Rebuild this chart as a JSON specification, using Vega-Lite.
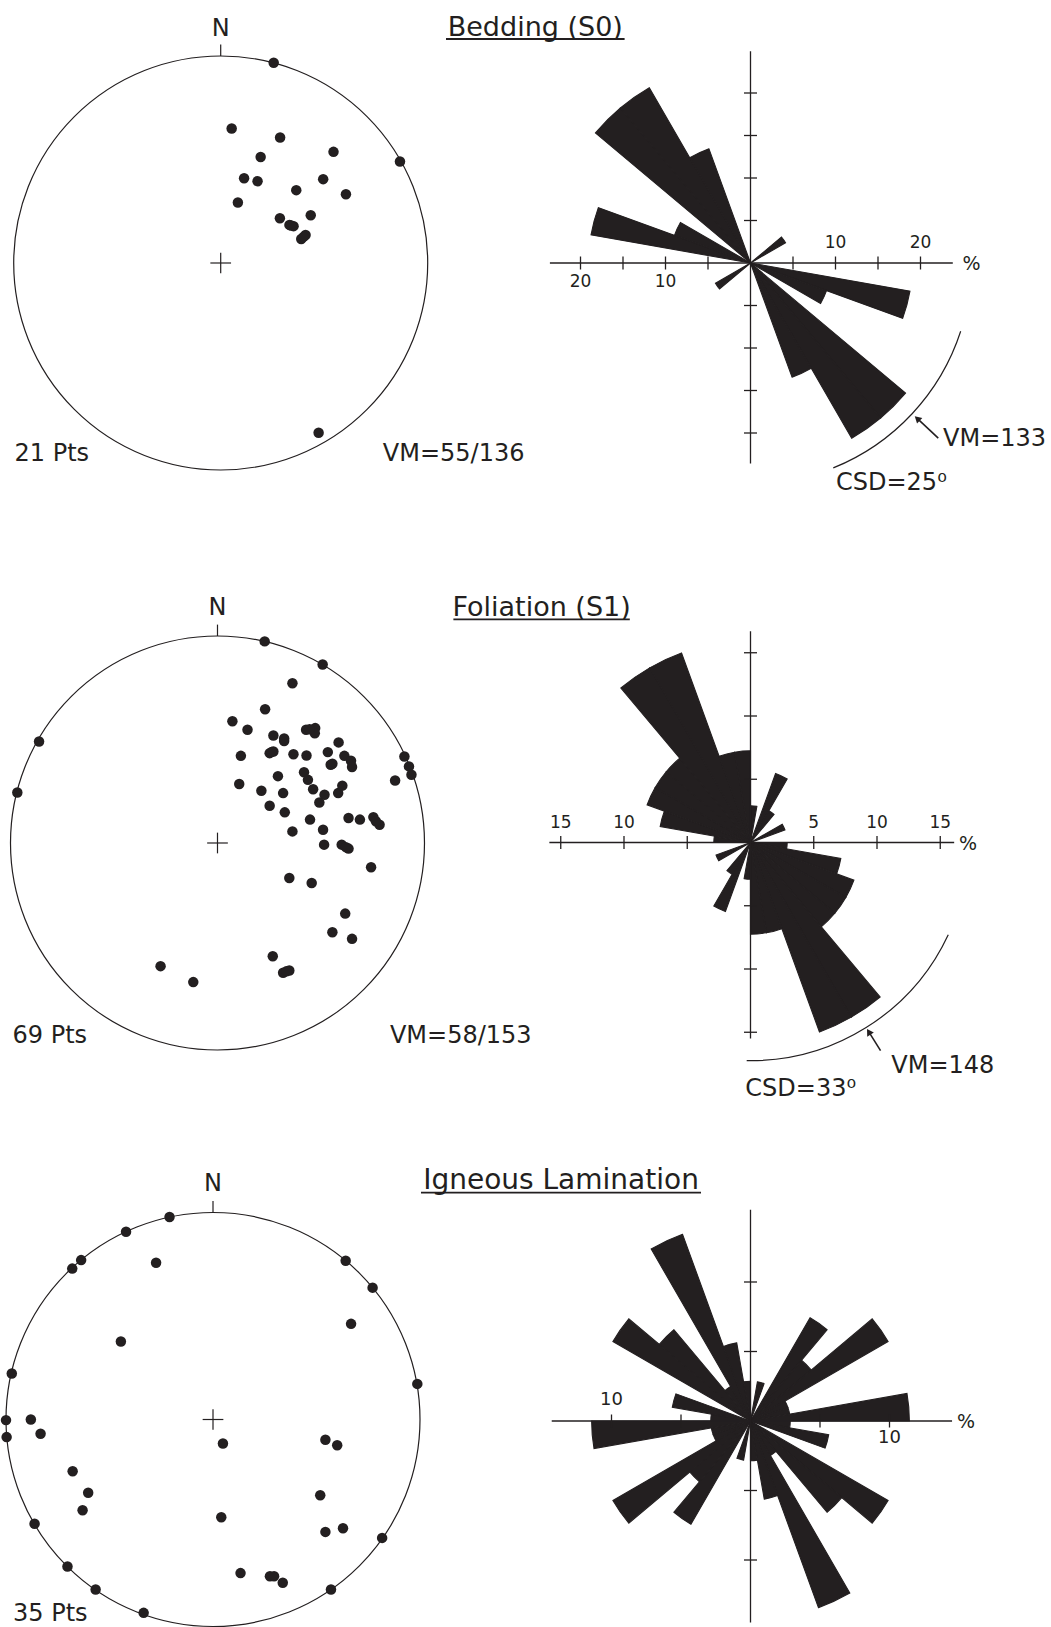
{
  "$schema": "https://vega.github.io/schema/vega-lite/v6.json",
  "padding": 0,
  "bounds": "flush",
  "spacing": 0,
  "columns": 2,
  "background": "white",
  "config": {
    "view": {"stroke": null},
    "axis": {"disable": true},
    "font": "DejaVu Sans",
    "text": {"font": "DejaVu Sans", "color": "#231f20"}
  },
  "datasets": {
    "net_centre": [{"x": 0, "y": 0}],
    "net_marks": [
      {"x": 0, "y": 1, "x2": 0, "y2": 1.055},
      {"x": -0.05, "y": 0, "x2": 0.05, "y2": 0},
      {"x": 0, "y": -0.05, "x2": 0, "y2": 0.05}
    ],
    "bedding_poles": [
      {"x": 0.256, "y": 0.967}, {"x": 0.866, "y": 0.49}, {"x": 0.053, "y": 0.65},
      {"x": 0.287, "y": 0.606}, {"x": 0.193, "y": 0.512}, {"x": 0.545, "y": 0.537},
      {"x": 0.113, "y": 0.409}, {"x": 0.178, "y": 0.395}, {"x": 0.365, "y": 0.352},
      {"x": 0.495, "y": 0.405}, {"x": 0.605, "y": 0.332}, {"x": 0.083, "y": 0.292},
      {"x": 0.286, "y": 0.216}, {"x": 0.435, "y": 0.231}, {"x": 0.332, "y": 0.184},
      {"x": 0.352, "y": 0.178}, {"x": 0.34, "y": 0.181}, {"x": 0.389, "y": 0.116},
      {"x": 0.41, "y": 0.135}, {"x": 0.4, "y": 0.126}, {"x": 0.473, "y": -0.82}
    ],
    "foliation_poles": [
      {"x": 0.228, "y": 0.974}, {"x": 0.508, "y": 0.862}, {"x": 0.362, "y": 0.772},
      {"x": 0.23, "y": 0.646}, {"x": 0.072, "y": 0.588}, {"x": 0.145, "y": 0.547},
      {"x": 0.428, "y": 0.547}, {"x": 0.472, "y": 0.555}, {"x": 0.27, "y": 0.519},
      {"x": 0.322, "y": 0.493}, {"x": 0.585, "y": 0.486}, {"x": 0.113, "y": 0.421},
      {"x": 0.252, "y": 0.434}, {"x": 0.27, "y": 0.442}, {"x": 0.367, "y": 0.429},
      {"x": 0.43, "y": 0.423}, {"x": 0.533, "y": 0.439}, {"x": 0.613, "y": 0.421},
      {"x": 0.645, "y": 0.397}, {"x": 0.65, "y": 0.367}, {"x": 0.547, "y": 0.378},
      {"x": 0.903, "y": 0.418}, {"x": 0.925, "y": 0.37}, {"x": 0.937, "y": 0.33},
      {"x": 0.858, "y": 0.302}, {"x": 0.418, "y": 0.342}, {"x": 0.437, "y": 0.305},
      {"x": 0.292, "y": 0.323}, {"x": 0.105, "y": 0.285}, {"x": 0.212, "y": 0.252},
      {"x": 0.317, "y": 0.241}, {"x": 0.462, "y": 0.26}, {"x": 0.517, "y": 0.233},
      {"x": 0.492, "y": 0.196}, {"x": 0.583, "y": 0.241}, {"x": 0.603, "y": 0.277},
      {"x": 0.252, "y": 0.18}, {"x": 0.325, "y": 0.148}, {"x": 0.447, "y": 0.113},
      {"x": 0.633, "y": 0.121}, {"x": 0.688, "y": 0.113}, {"x": 0.753, "y": 0.125},
      {"x": 0.783, "y": 0.088}, {"x": 0.362, "y": 0.056}, {"x": 0.51, "y": 0.064},
      {"x": 0.515, "y": -0.008}, {"x": 0.6, "y": -0.008}, {"x": 0.633, "y": -0.027},
      {"x": 0.742, "y": -0.117}, {"x": 0.347, "y": -0.169}, {"x": 0.455, "y": -0.193},
      {"x": 0.617, "y": -0.341}, {"x": 0.555, "y": -0.431}, {"x": 0.65, "y": -0.463},
      {"x": 0.267, "y": -0.547}, {"x": 0.317, "y": -0.627}, {"x": 0.347, "y": -0.616},
      {"x": -0.275, "y": -0.595}, {"x": -0.117, "y": -0.672}, {"x": -0.862, "y": 0.49},
      {"x": -0.967, "y": 0.244}, {"x": 0.322, "y": 0.505}, {"x": 0.262, "y": 0.44},
      {"x": 0.555, "y": 0.383}, {"x": 0.47, "y": 0.53}, {"x": 0.765, "y": 0.105},
      {"x": 0.445, "y": 0.55}, {"x": 0.62, "y": -0.02}, {"x": 0.333, "y": -0.62}
    ],
    "lamination_poles": [
      {"x": -0.21, "y": 0.978}, {"x": -0.42, "y": 0.907}, {"x": -0.637, "y": 0.77},
      {"x": -0.68, "y": 0.729}, {"x": -0.275, "y": 0.757}, {"x": 0.641, "y": 0.767},
      {"x": 0.771, "y": 0.637}, {"x": 0.667, "y": 0.462}, {"x": -0.445, "y": 0.377},
      {"x": -0.972, "y": 0.222}, {"x": 0.987, "y": 0.172}, {"x": -1.0, "y": -0.003},
      {"x": -0.88, "y": 0.0}, {"x": -0.997, "y": -0.085}, {"x": -0.833, "y": -0.069},
      {"x": 0.048, "y": -0.116}, {"x": 0.543, "y": -0.098}, {"x": 0.6, "y": -0.124},
      {"x": -0.678, "y": -0.25}, {"x": -0.603, "y": -0.354}, {"x": -0.63, "y": -0.438},
      {"x": 0.518, "y": -0.366}, {"x": 0.04, "y": -0.472}, {"x": 0.543, "y": -0.543},
      {"x": 0.628, "y": -0.525}, {"x": -0.862, "y": -0.504}, {"x": 0.817, "y": -0.572},
      {"x": -0.703, "y": -0.71}, {"x": 0.133, "y": -0.742}, {"x": 0.275, "y": -0.757},
      {"x": 0.295, "y": -0.757}, {"x": 0.337, "y": -0.789}, {"x": -0.567, "y": -0.821},
      {"x": 0.57, "y": -0.821}, {"x": -0.335, "y": -0.934}
    ],
    "bedding_rose": [
      {"a0": 50, "a1": 60, "p": 4.76}, {"a0": 230, "a1": 240, "p": 4.76},
      {"a0": 100, "a1": 110, "p": 19.05}, {"a0": 280, "a1": 290, "p": 19.05},
      {"a0": 110, "a1": 120, "p": 9.52}, {"a0": 290, "a1": 300, "p": 9.52},
      {"a0": 130, "a1": 140, "p": 23.81}, {"a0": 310, "a1": 320, "p": 23.81},
      {"a0": 140, "a1": 150, "p": 23.81}, {"a0": 320, "a1": 330, "p": 23.81},
      {"a0": 150, "a1": 160, "p": 14.29}, {"a0": 330, "a1": 340, "p": 14.29}
    ],
    "foliation_rose": [
      {"a0": 0, "a1": 10, "p": 2.9}, {"a0": 180, "a1": 190, "p": 2.9},
      {"a0": 20, "a1": 30, "p": 5.8}, {"a0": 200, "a1": 210, "p": 5.8},
      {"a0": 30, "a1": 40, "p": 2.9}, {"a0": 210, "a1": 220, "p": 2.9},
      {"a0": 60, "a1": 70, "p": 2.9}, {"a0": 240, "a1": 250, "p": 2.9},
      {"a0": 90, "a1": 100, "p": 2.9}, {"a0": 270, "a1": 280, "p": 2.9},
      {"a0": 100, "a1": 110, "p": 7.25}, {"a0": 280, "a1": 290, "p": 7.25},
      {"a0": 110, "a1": 120, "p": 8.7}, {"a0": 290, "a1": 300, "p": 8.7},
      {"a0": 120, "a1": 130, "p": 8.7}, {"a0": 300, "a1": 310, "p": 8.7},
      {"a0": 130, "a1": 140, "p": 8.7}, {"a0": 310, "a1": 320, "p": 8.7},
      {"a0": 140, "a1": 150, "p": 15.94}, {"a0": 320, "a1": 330, "p": 15.94},
      {"a0": 150, "a1": 160, "p": 15.94}, {"a0": 330, "a1": 340, "p": 15.94},
      {"a0": 160, "a1": 170, "p": 7.25}, {"a0": 340, "a1": 350, "p": 7.25},
      {"a0": 170, "a1": 180, "p": 7.25}, {"a0": 350, "a1": 360, "p": 7.25}
    ],
    "lamination_rose": [
      {"a0": 10, "a1": 20, "p": 2.86}, {"a0": 190, "a1": 200, "p": 2.86},
      {"a0": 30, "a1": 40, "p": 8.57}, {"a0": 210, "a1": 220, "p": 8.57},
      {"a0": 40, "a1": 50, "p": 5.71}, {"a0": 220, "a1": 230, "p": 5.71},
      {"a0": 50, "a1": 60, "p": 11.43}, {"a0": 230, "a1": 240, "p": 11.43},
      {"a0": 60, "a1": 70, "p": 2.86}, {"a0": 240, "a1": 250, "p": 2.86},
      {"a0": 70, "a1": 80, "p": 2.86}, {"a0": 250, "a1": 260, "p": 2.86},
      {"a0": 80, "a1": 90, "p": 11.43}, {"a0": 260, "a1": 270, "p": 11.43},
      {"a0": 90, "a1": 100, "p": 2.86}, {"a0": 270, "a1": 280, "p": 2.86},
      {"a0": 100, "a1": 110, "p": 5.71}, {"a0": 280, "a1": 290, "p": 5.71},
      {"a0": 120, "a1": 130, "p": 11.43}, {"a0": 300, "a1": 310, "p": 11.43},
      {"a0": 130, "a1": 140, "p": 8.57}, {"a0": 310, "a1": 320, "p": 8.57},
      {"a0": 140, "a1": 150, "p": 2.86}, {"a0": 320, "a1": 330, "p": 2.86},
      {"a0": 150, "a1": 160, "p": 14.29}, {"a0": 330, "a1": 340, "p": 14.29},
      {"a0": 160, "a1": 170, "p": 5.71}, {"a0": 340, "a1": 350, "p": 5.71},
      {"a0": 170, "a1": 180, "p": 2.86}, {"a0": 350, "a1": 360, "p": 2.86}
    ]
  },
  "concat": [
    {
      "width": 540, "height": 541,
      "encoding": {
        "x": {"field": "x", "type": "quantitative", "scale": {"domain": [-1.0662, 1.5425], "nice": false, "zero": false}},
        "y": {"field": "y", "type": "quantitative", "scale": {"domain": [-1.343, 1.2705], "nice": false, "zero": false}}
      },
      "layer": [
        {"data": {"name": "net_centre"}, "mark": {"type": "point", "shape": "circle", "size": 171396, "filled": false, "opacity": 1, "color": "#231f20", "strokeWidth": 1.2}, "encoding": {}},
        {"data": {"name": "net_marks"}, "mark": {"type": "rule", "color": "#231f20", "strokeWidth": 1.2},
         "encoding": {"x2": {"field": "x2"}, "y2": {"field": "y2"}}},
        {"data": {"name": "bedding_poles"}, "mark": {"type": "circle", "size": 110, "opacity": 1, "color": "#231f20"}, "encoding": {}},
        {"data": {"values": [{"x": 0, "y": 1.0966, "t": "N"}]}, "mark": {"type": "text", "fontSize": 24, "align": "center", "baseline": "alphabetic"},
         "encoding": {"text": {"field": "t", "type": "nominal"}}},
        {"data": {"values": [{"x": -0.996, "y": -0.925, "t": "21 Pts"}, {"x": 0.783, "y": -0.925, "t": "VM=55/136"}]},
         "mark": {"type": "text", "fontSize": 24, "align": "left", "baseline": "middle"},
         "encoding": {"text": {"field": "t", "type": "nominal"}}},
        {"data": {"values": [{"x": 1.5198, "y": 1.099, "t": "Bedding (S0)"}]}, "mark": {"type": "text", "fontSize": 27, "align": "center", "baseline": "alphabetic"},
         "encoding": {"text": {"field": "t", "type": "nominal"}}},
        {"data": {"values": [{"x": 1.0884, "y": 1.0821, "x2": 1.9512, "y2": 1.0821}]}, "mark": {"type": "rule", "color": "#231f20", "strokeWidth": 1.8},
         "encoding": {"x2": {"field": "x2"}, "y2": {"field": "y2"}}}
      ]
    },
    {
      "width": 421, "height": 526,
      "layer": [
        {"data": {"name": "bedding_rose"}, "mark": {"type": "arc", "color": "#231f20", "stroke": "#231f20", "strokeWidth": 1.1, "strokeJoin": "miter"},
         "encoding": {
           "theta": {"field": "a0", "type": "quantitative", "stack": null, "scale": {"domain": [0, 360], "range": [0, 6.283185307179586]}},
           "theta2": {"field": "a1"},
           "radius": {"field": "p", "type": "quantitative", "scale": {"type": "linear", "domain": [0, 10], "range": [0, 85]}}}},
        {"data": {"values": [{"a0": 108, "a1": 158, "p": 26}]}, "mark": {"type": "arc", "filled": false, "color": "#231f20", "strokeWidth": 1.2},
         "encoding": {
           "theta": {"field": "a0", "type": "quantitative", "stack": null, "scale": {"domain": [0, 360], "range": [0, 6.283185307179586]}},
           "theta2": {"field": "a1"},
           "radius": {"field": "p", "type": "quantitative", "scale": {"type": "linear", "domain": [0, 10], "range": [0, 85]}},
           "radius2": {"field": "p"}}},
        {
          "encoding": {
            "x": {"field": "x", "type": "quantitative", "scale": {"domain": [-24.765, 24.765], "nice": false, "zero": false}},
            "y": {"field": "y", "type": "quantitative", "scale": {"domain": [-30.941, 30.941], "nice": false, "zero": false}}
          },
          "layer": [
            {"data": {"values": [{"x": -23.6, "y": 0, "x2": 23.8, "y2": 0}, {"x": 0, "y": -23.6, "x2": 0, "y2": 24.9}]},
             "mark": {"type": "rule", "color": "#231f20", "strokeWidth": 1.3},
             "encoding": {"x2": {"field": "x2"}, "y2": {"field": "y2"}}},
            {"data": {"values": [{"x": -20, "y": 0}, {"x": -15, "y": 0}, {"x": -10, "y": 0}, {"x": -5, "y": 0}, {"x": 5, "y": 0}, {"x": 10, "y": 0}, {"x": 15, "y": 0}, {"x": 20, "y": 0}]},
             "mark": {"type": "tick", "orient": "vertical", "size": 13, "thickness": 1.3, "color": "#231f20", "opacity": 1}, "encoding": {}},
            {"data": {"values": [{"x": 0, "y": -20}, {"x": 0, "y": -15}, {"x": 0, "y": -10}, {"x": 0, "y": -5}, {"x": 0, "y": 5}, {"x": 0, "y": 10}, {"x": 0, "y": 15}, {"x": 0, "y": 20}]},
             "mark": {"type": "tick", "orient": "horizontal", "size": 13, "thickness": 1.3, "color": "#231f20", "opacity": 1}, "encoding": {}},
            {"data": {"values": [{"x": -20, "y": -2.25, "t": "20"}, {"x": -10, "y": -2.25, "t": "10"}, {"x": 10, "y": 2.4, "t": "10"}, {"x": 20, "y": 2.4, "t": "20"}]},
             "mark": {"type": "text", "fontSize": 17, "align": "center", "baseline": "middle"},
             "encoding": {"text": {"field": "t", "type": "nominal"}}},
            {"data": {"values": [{"x": 26.0, "y": -0.1, "t": "%"}]}, "mark": {"type": "text", "fontSize": 19, "align": "center", "baseline": "middle"},
             "encoding": {"text": {"field": "t", "type": "nominal"}}},
            {"data": {"values": [{"x": 19.673, "y": -18.346, "x2": 22.087, "y2": -20.596}]}, "mark": {"type": "rule", "color": "#231f20", "strokeWidth": 1.6},
             "encoding": {"x2": {"field": "x2"}, "y2": {"field": "y2"}}},
            {"data": {"values": [{"x": 19.615, "y": -18.291}]}, "mark": {"type": "point", "shape": "triangle-up", "angle": 313, "size": 60, "filled": true, "opacity": 1, "color": "#231f20"}, "encoding": {}},
            {"data": {"values": [{"x": 22.65, "y": -20.76, "t": "VM=133"}, {"x": 10.06, "y": -25.94, "t": "CSD=25\u2070"}]},
             "mark": {"type": "text", "fontSize": 24, "align": "left", "baseline": "middle"},
             "encoding": {"text": {"field": "t", "type": "nominal"}}}
          ]
        }
      ]
    },
    {
      "width": 540, "height": 674,
      "encoding": {
        "x": {"field": "x", "type": "quantitative", "scale": {"domain": [-1.0507, 1.558], "nice": false, "zero": false}},
        "y": {"field": "y", "type": "quantitative", "scale": {"domain": [-1.7971, 1.4589], "nice": false, "zero": false}}
      },
      "layer": [
        {"data": {"name": "net_centre"}, "mark": {"type": "point", "shape": "circle", "size": 171396, "filled": false, "opacity": 1, "color": "#231f20", "strokeWidth": 1.2}, "encoding": {}},
        {"data": {"name": "net_marks"}, "mark": {"type": "rule", "color": "#231f20", "strokeWidth": 1.2},
         "encoding": {"x2": {"field": "x2"}, "y2": {"field": "y2"}}},
        {"data": {"name": "foliation_poles"}, "mark": {"type": "circle", "size": 110, "opacity": 1, "color": "#231f20"}, "encoding": {}},
        {"data": {"values": [{"x": 0, "y": 1.1014, "t": "N"}]}, "mark": {"type": "text", "fontSize": 24, "align": "center", "baseline": "alphabetic"},
         "encoding": {"text": {"field": "t", "type": "nominal"}}},
        {"data": {"values": [{"x": -0.99, "y": -0.93, "t": "69 Pts"}, {"x": 0.833, "y": -0.93, "t": "VM=58/153"}]},
         "mark": {"type": "text", "fontSize": 24, "align": "left", "baseline": "middle"},
         "encoding": {"text": {"field": "t", "type": "nominal"}}},
        {"data": {"values": [{"x": 1.5657, "y": 1.0976, "t": "Foliation (S1)"}]}, "mark": {"type": "text", "fontSize": 27, "align": "center", "baseline": "alphabetic"},
         "encoding": {"text": {"field": "t", "type": "nominal"}}},
        {"data": {"values": [{"x": 1.1396, "y": 1.0807, "x2": 1.9918, "y2": 1.0807}]}, "mark": {"type": "rule", "color": "#231f20", "strokeWidth": 1.8},
         "encoding": {"x2": {"field": "x2"}, "y2": {"field": "y2"}}}
      ]
    },
    {
      "width": 421, "height": 603,
      "layer": [
        {"data": {"name": "foliation_rose"}, "mark": {"type": "arc", "color": "#231f20", "stroke": "#231f20", "strokeWidth": 1.1, "strokeJoin": "miter"},
         "encoding": {
           "theta": {"field": "a0", "type": "quantitative", "stack": null, "scale": {"domain": [0, 360], "range": [0, 6.283185307179586]}},
           "theta2": {"field": "a1"},
           "radius": {"field": "p", "type": "quantitative", "scale": {"type": "linear", "domain": [0, 10], "range": [0, 126.5]}}}},
        {"data": {"values": [{"a0": 115, "a1": 181, "p": 17.25}]}, "mark": {"type": "arc", "filled": false, "color": "#231f20", "strokeWidth": 1.2},
         "encoding": {
           "theta": {"field": "a0", "type": "quantitative", "stack": null, "scale": {"domain": [0, 360], "range": [0, 6.283185307179586]}},
           "theta2": {"field": "a1"},
           "radius": {"field": "p", "type": "quantitative", "scale": {"type": "linear", "domain": [0, 10], "range": [0, 126.5]}},
           "radius2": {"field": "p"}}},
        {
          "encoding": {
            "x": {"field": "x", "type": "quantitative", "scale": {"domain": [-16.64, 16.64], "nice": false, "zero": false}},
            "y": {"field": "y", "type": "quantitative", "scale": {"domain": [-23.834, 23.834], "nice": false, "zero": false}}
          },
          "layer": [
            {"data": {"values": [{"x": -15.9, "y": 0, "x2": 16.1, "y2": 0}, {"x": 0, "y": -15.5, "x2": 0, "y2": 16.7}]},
             "mark": {"type": "rule", "color": "#231f20", "strokeWidth": 1.3},
             "encoding": {"x2": {"field": "x2"}, "y2": {"field": "y2"}}},
            {"data": {"values": [{"x": -15, "y": 0}, {"x": -10, "y": 0}, {"x": -5, "y": 0}, {"x": 5, "y": 0}, {"x": 10, "y": 0}, {"x": 15, "y": 0}]},
             "mark": {"type": "tick", "orient": "vertical", "size": 13, "thickness": 1.3, "color": "#231f20", "opacity": 1}, "encoding": {}},
            {"data": {"values": [{"x": 0, "y": -15}, {"x": 0, "y": -10}, {"x": 0, "y": -5}, {"x": 0, "y": 5}, {"x": 0, "y": 10}, {"x": 0, "y": 15}]},
             "mark": {"type": "tick", "orient": "horizontal", "size": 13, "thickness": 1.3, "color": "#231f20", "opacity": 1}, "encoding": {}},
            {"data": {"values": [{"x": -15, "y": 1.58, "t": "15"}, {"x": -10, "y": 1.58, "t": "10"}, {"x": 5, "y": 1.58, "t": "5"}, {"x": 10, "y": 1.58, "t": "10"}, {"x": 15, "y": 1.58, "t": "15"}]},
             "mark": {"type": "text", "fontSize": 17, "align": "center", "baseline": "middle"},
             "encoding": {"text": {"field": "t", "type": "nominal"}}},
            {"data": {"values": [{"x": 17.2, "y": -0.15, "t": "%"}]}, "mark": {"type": "text", "fontSize": 19, "align": "center", "baseline": "middle"},
             "encoding": {"text": {"field": "t", "type": "nominal"}}},
            {"data": {"values": [{"x": 9.38, "y": -15.01, "x2": 10.28, "y2": -16.45}]}, "mark": {"type": "rule", "color": "#231f20", "strokeWidth": 1.6},
             "encoding": {"x2": {"field": "x2"}, "y2": {"field": "y2"}}},
            {"data": {"values": [{"x": 9.348, "y": -14.96}]}, "mark": {"type": "point", "shape": "triangle-up", "angle": 328, "size": 60, "filled": true, "opacity": 1, "color": "#231f20"}, "encoding": {}},
            {"data": {"values": [{"x": 11.13, "y": -17.63, "t": "VM=148"}, {"x": -0.41, "y": -19.5, "t": "CSD=33\u2070"}]},
             "mark": {"type": "text", "fontSize": 24, "align": "left", "baseline": "middle"},
             "encoding": {"text": {"field": "t", "type": "nominal"}}}
          ]
        }
      ]
    },
    {
      "width": 540, "height": 412,
      "encoding": {
        "x": {"field": "x", "type": "quantitative", "scale": {"domain": [-1.029, 1.5797], "nice": false, "zero": false}},
        "y": {"field": "y", "type": "quantitative", "scale": {"domain": [-1.0024, 0.9879], "nice": false, "zero": false}}
      },
      "layer": [
        {"data": {"name": "net_centre"}, "mark": {"type": "point", "shape": "circle", "size": 171396, "filled": false, "opacity": 1, "color": "#231f20", "strokeWidth": 1.2}, "encoding": {}},
        {"data": {"name": "net_marks"}, "mark": {"type": "rule", "color": "#231f20", "strokeWidth": 1.2},
         "encoding": {"x2": {"field": "x2"}, "y2": {"field": "y2"}}},
        {"data": {"name": "lamination_poles"}, "mark": {"type": "circle", "size": 110, "opacity": 1, "color": "#231f20"}, "encoding": {}},
        {"data": {"values": [{"x": 0, "y": 1.1039, "t": "N"}]}, "mark": {"type": "text", "fontSize": 24, "align": "center", "baseline": "alphabetic"},
         "encoding": {"text": {"field": "t", "type": "nominal"}}},
        {"data": {"values": [{"x": -0.966, "y": -0.94, "t": "35 Pts"}]},
         "mark": {"type": "text", "fontSize": 24, "align": "left", "baseline": "middle"},
         "encoding": {"text": {"field": "t", "type": "nominal"}}},
        {"data": {"values": [{"x": 1.6812, "y": 1.1121, "t": "Igneous Lamination"}]}, "mark": {"type": "text", "fontSize": 28, "align": "center", "baseline": "alphabetic"},
         "encoding": {"text": {"field": "t", "type": "nominal"}}},
        {"data": {"values": [{"x": 1.0048, "y": 1.0957, "x2": 2.3575, "y2": 1.0957}]}, "mark": {"type": "rule", "color": "#231f20", "strokeWidth": 1.8},
         "encoding": {"x2": {"field": "x2"}, "y2": {"field": "y2"}}}
      ]
    },
    {
      "width": 421, "height": 412,
      "layer": [
        {"data": {"name": "lamination_rose"}, "mark": {"type": "arc", "color": "#231f20", "stroke": "#231f20", "strokeWidth": 1.1, "strokeJoin": "miter"},
         "encoding": {
           "theta": {"field": "a0", "type": "quantitative", "stack": null, "scale": {"domain": [0, 360], "range": [0, 6.283185307179586]}},
           "theta2": {"field": "a1"},
           "radius": {"field": "p", "type": "quantitative", "scale": {"type": "linear", "domain": [0, 10], "range": [0, 139]}}}},
        {
          "encoding": {
            "x": {"field": "x", "type": "quantitative", "scale": {"domain": [-15.144, 15.144], "nice": false, "zero": false}},
            "y": {"field": "y", "type": "quantitative", "scale": {"domain": [-14.82, 14.82], "nice": false, "zero": false}}
          },
          "layer": [
            {"data": {"values": [{"x": -14.3, "y": 0, "x2": 14.5, "y2": 0}, {"x": 0, "y": -14.5, "x2": 0, "y2": 15.2}]},
             "mark": {"type": "rule", "color": "#231f20", "strokeWidth": 1.3},
             "encoding": {"x2": {"field": "x2"}, "y2": {"field": "y2"}}},
            {"data": {"values": [{"x": -10, "y": 0}, {"x": -5, "y": 0}, {"x": 5, "y": 0}, {"x": 10, "y": 0}]},
             "mark": {"type": "tick", "orient": "vertical", "size": 13, "thickness": 1.3, "color": "#231f20", "opacity": 1}, "encoding": {}},
            {"data": {"values": [{"x": 0, "y": -10}, {"x": 0, "y": -5}, {"x": 0, "y": 5}, {"x": 0, "y": 10}]},
             "mark": {"type": "tick", "orient": "horizontal", "size": 13, "thickness": 1.3, "color": "#231f20", "opacity": 1}, "encoding": {}},
            {"data": {"values": [{"x": -10, "y": 1.5, "t": "10"}, {"x": 10, "y": -1.25, "t": "10"}]},
             "mark": {"type": "text", "fontSize": 18, "align": "center", "baseline": "middle"},
             "encoding": {"text": {"field": "t", "type": "nominal"}}},
            {"data": {"values": [{"x": 15.5, "y": -0.1, "t": "%"}]}, "mark": {"type": "text", "fontSize": 19, "align": "center", "baseline": "middle"},
             "encoding": {"text": {"field": "t", "type": "nominal"}}}
          ]
        }
      ]
    }
  ]
}
